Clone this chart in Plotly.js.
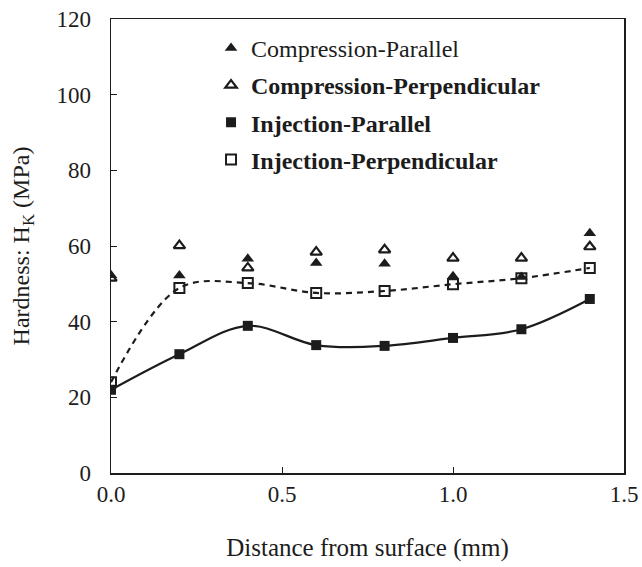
<!DOCTYPE html>
<html><head><meta charset="utf-8">
<script src="https://cdn.plot.ly/plotly-3.0.1.min.js"></script>
<style>body{margin:0;padding:0;background:#fff}#chart{width:642px;height:567px}</style>
</head><body><div id="chart"></div>
<script>
var distance = [0.0, 0.2, 0.4, 0.6, 0.8, 1.0, 1.2, 1.4];
var compressionParallel = [52.3, 52.2, 56.6, 55.5, 55.3, 52.0, 51.8, 63.4];
var compressionPerpendicular = [51.5, 60.1, 54.2, 58.4, 59.0, 56.8, 56.8, 59.8];
var injectionParallel = [22.0, 31.4, 38.9, 33.8, 33.6, 35.7, 38.0, 46.0];
var injectionPerpendicular = [24.0, 48.9, 50.2, 47.6, 48.1, 49.9, 51.5, 54.2];
var seriesNames = ['Compression-Parallel', '<b>Compression-Perpendicular</b>', '<b>Injection-Parallel</b>', '<b>Injection-Perpendicular</b>'];

var ink = '#1c1c1c';
var traces = [
  {x: distance, y: injectionParallel, mode: 'lines', line: {color: ink, width: 2.2, shape: 'spline', smoothing: 1.0},
   showlegend: false, hoverinfo: 'skip', legendgroup: 'l1'},
  {x: distance, y: injectionPerpendicular, mode: 'lines', line: {color: ink, width: 2.2, dash: '6px,5px', shape: 'spline', smoothing: 1.0},
   showlegend: false, hoverinfo: 'skip', legendgroup: 'l2'},
  {x: distance, y: compressionParallel, mode: 'markers', name: seriesNames[0], legendgroup: 'g1',
   marker: {symbol: 'triangle-up', size: 11, color: ink}},
  {x: distance, y: compressionPerpendicular, mode: 'markers', name: seriesNames[1], legendgroup: 'g2',
   marker: {symbol: 'triangle-up-open', size: 10, color: ink, line: {width: 2.2, color: ink}}},
  {x: distance, y: injectionParallel, mode: 'markers', name: seriesNames[2], legendgroup: 'g3',
   marker: {symbol: 'square', size: 10, color: ink}},
  {x: distance, y: injectionPerpendicular, mode: 'markers', name: seriesNames[3], legendgroup: 'g4',
   marker: {symbol: 'square-open', size: 10, color: ink, line: {width: 2, color: ink}}}
];

var font = 'Liberation Serif, Times New Roman, serif';
var layout = {
  width: 642, height: 567,
  margin: {l: 111, r: 18, t: 19, b: 94},
  paper_bgcolor: '#fff', plot_bgcolor: '#fff',
  font: {family: font, color: ink, size: 24},
  showlegend: true,
  legend: {x: 0.195, y: 0.985, xanchor: 'left', yanchor: 'top', bgcolor: 'rgba(0,0,0,0)',
           traceorder: 'grouped', tracegroupgap: 3,
           font: {family: font, size: 24, color: ink}},
  xaxis: {range: [0, 1.5], dtick: 0.5, tick0: 0, tickformat: '.1f', ticks: 'inside', ticklen: 6,
          tickcolor: ink, showline: true, linecolor: ink, linewidth: 1.5, mirror: true,
          showgrid: false, zeroline: false, ticklabelstandoff: 0,
          tickfont: {family: font, size: 23, color: ink},
          title: {text: 'Distance from surface (mm)', font: {family: font, size: 25, color: ink}, standoff: 32}},
  yaxis: {range: [0, 120], dtick: 20, tick0: 0, ticks: 'inside', ticklen: 6,
          tickcolor: ink, showline: true, linecolor: ink, linewidth: 1.5, mirror: true,
          showgrid: false, zeroline: false, ticklabelstandoff: 14,
          tickfont: {family: font, size: 23, color: ink},
          title: {text: 'Hardness: H<sub>K</sub> (MPa)', font: {family: font, size: 24, color: ink}, standoff: 20}}
};
Plotly.newPlot('chart', traces, layout, {displayModeBar: false, staticPlot: true});
</script></body></html>
